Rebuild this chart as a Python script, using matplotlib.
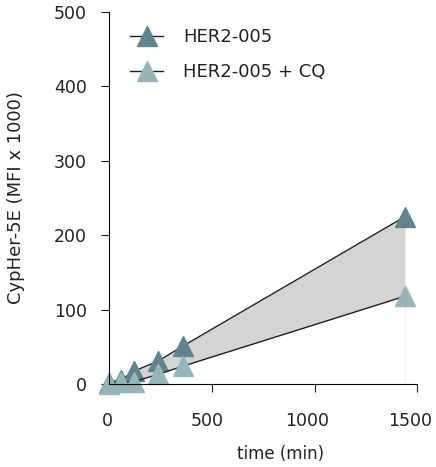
import matplotlib
matplotlib.use('Agg')
import matplotlib.pyplot as plt
import matplotlib.transforms as mtransforms

# uptake over time, CypHer-5E signal (MFI x 1000)
time_min = [0, 60, 120, 240, 360, 1440]
her2 = [2, 6, 17, 31, 51, 225]
her2_cq = [0, 3, 3, 13, 24, 118]

dark = '#5e858f'
light = '#94b6ba'

fig = plt.figure(figsize=(4.36, 4.67), dpi=100)
ax = fig.add_axes([0.2498, 0.1777, 0.7073, 0.7966])

ax.fill_between(time_min, her2_cq, her2, color='#d4d4d4', linewidth=0)
ax.vlines(time_min[-1], 0, her2_cq[-1], color='#f2f2f2', linewidth=0.8)
ax.plot(time_min, her2, color='#222222', linewidth=1.0, marker='^', markersize=14.5,
        markerfacecolor=dark, markeredgecolor=dark, label='HER2-005', clip_on=False)
ax.plot(time_min, her2_cq, color='#222222', linewidth=1.0, marker='^', markersize=14.5,
        markerfacecolor=light, markeredgecolor=light, label='HER2-005 + CQ', clip_on=False)

ax.set_xlim(0, 1500)
ax.set_ylim(0, 500)
ax.set_xticks([0, 500, 1000, 1500])
ax.set_yticks([0, 100, 200, 300, 400, 500])
for s in ['top', 'right']:
    ax.spines[s].set_visible(False)
ax.tick_params(labelsize=12.5, length=6, color='#222222', labelcolor='#222222')
ax.tick_params(axis='x', pad=14)
ax.tick_params(axis='y', pad=10)

# pull the x tick labels slightly left so 1500 stays inside the figure
for lab, dx in zip(ax.get_xticklabels(), [-1.5, -5, -7, -7]):
    shift = mtransforms.ScaledTranslation(dx / 100, 0, fig.dpi_scale_trans)
    lab.set_transform(lab.get_transform() + shift)

ax.set_xlabel('time (min)', fontsize=12, color='#222222')
ax.xaxis.set_label_coords(0.558, -0.165)
ax.set_ylabel('CypHer-5E (MFI x 1000)', fontsize=13, color='#222222')
ax.yaxis.set_label_coords(-0.272, 0.5)

ax.legend(loc='upper left', bbox_to_anchor=(0.068, 0.957), frameon=False, fontsize=13,
          borderpad=0, borderaxespad=0, handlelength=1.85, handletextpad=1.1,
          labelspacing=0.95, labelcolor='#222222')

fig.savefig('out.png', dpi=100)
